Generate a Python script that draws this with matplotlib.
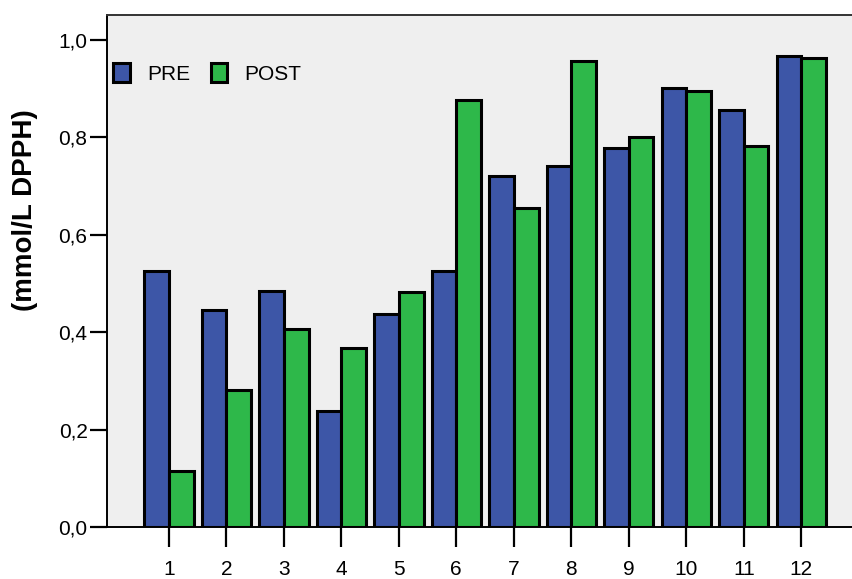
import matplotlib.pyplot as plt
import numpy as np

plt.rcParams['font.family'] = ['Liberation Sans', 'DejaVu Sans']

# datos
muestras = ['1', '2', '3', '4', '5', '6', '7', '8', '9', '10', '11', '12']
pre = [0.526, 0.445, 0.485, 0.238, 0.438, 0.526, 0.721, 0.742, 0.778, 0.902, 0.857, 0.968]
post = [0.115, 0.281, 0.407, 0.367, 0.483, 0.876, 0.654, 0.956, 0.801, 0.896, 0.783, 0.964]
yticks = [0.0, 0.2, 0.4, 0.6, 0.8, 1.0]
ytick_labels = ['0,0', '0,2', '0,4', '0,6', '0,8', '1,0']

azul = '#3D56A7'
verde = '#2EB84A'

fig = plt.figure(figsize=(8.53, 5.79), dpi=100)
ax = fig.add_axes([0.1254, 0.0898, 0.8746, 0.8843])
ax.set_facecolor('#EFEFEF')

x = np.arange(1, len(muestras) + 1)
w = 0.43
ax.bar(x - w / 2, pre, w, color=azul, edgecolor='black', linewidth=2.2, label='PRE')
ax.bar(x + w / 2, post, w, color=verde, edgecolor='black', linewidth=2.2, label='POST')

ax.set_xlim(-0.076, 12.9)
ax.set_ylim(0, 1.0513)
ax.set_xticks(x)
ax.set_xticklabels(muestras)
ax.set_yticks(yticks)
ax.set_yticklabels(ytick_labels)

ax.tick_params(axis='x', length=14.5, width=1.6, labelsize=15, pad=9)
ax.tick_params(axis='y', length=12, width=1.6, labelsize=15, pad=2)

for s in ['left', 'bottom', 'top']:
    ax.spines[s].set_linewidth(1.4)
ax.spines['top'].set_color('#333333')
ax.spines['right'].set_visible(False)

ax.set_ylabel('(mmol/L DPPH)', fontsize=20, fontweight='bold')
ax.yaxis.set_label_coords(-0.092, 0.619)

ax.legend(loc='upper left', bbox_to_anchor=(-0.008, 0.93), ncol=2, frameon=False,
          fontsize=15, handlelength=0.8, handleheight=1.0, handletextpad=0.8,
          columnspacing=1.0, borderaxespad=0.2)

fig.savefig('out.png', dpi=100)
